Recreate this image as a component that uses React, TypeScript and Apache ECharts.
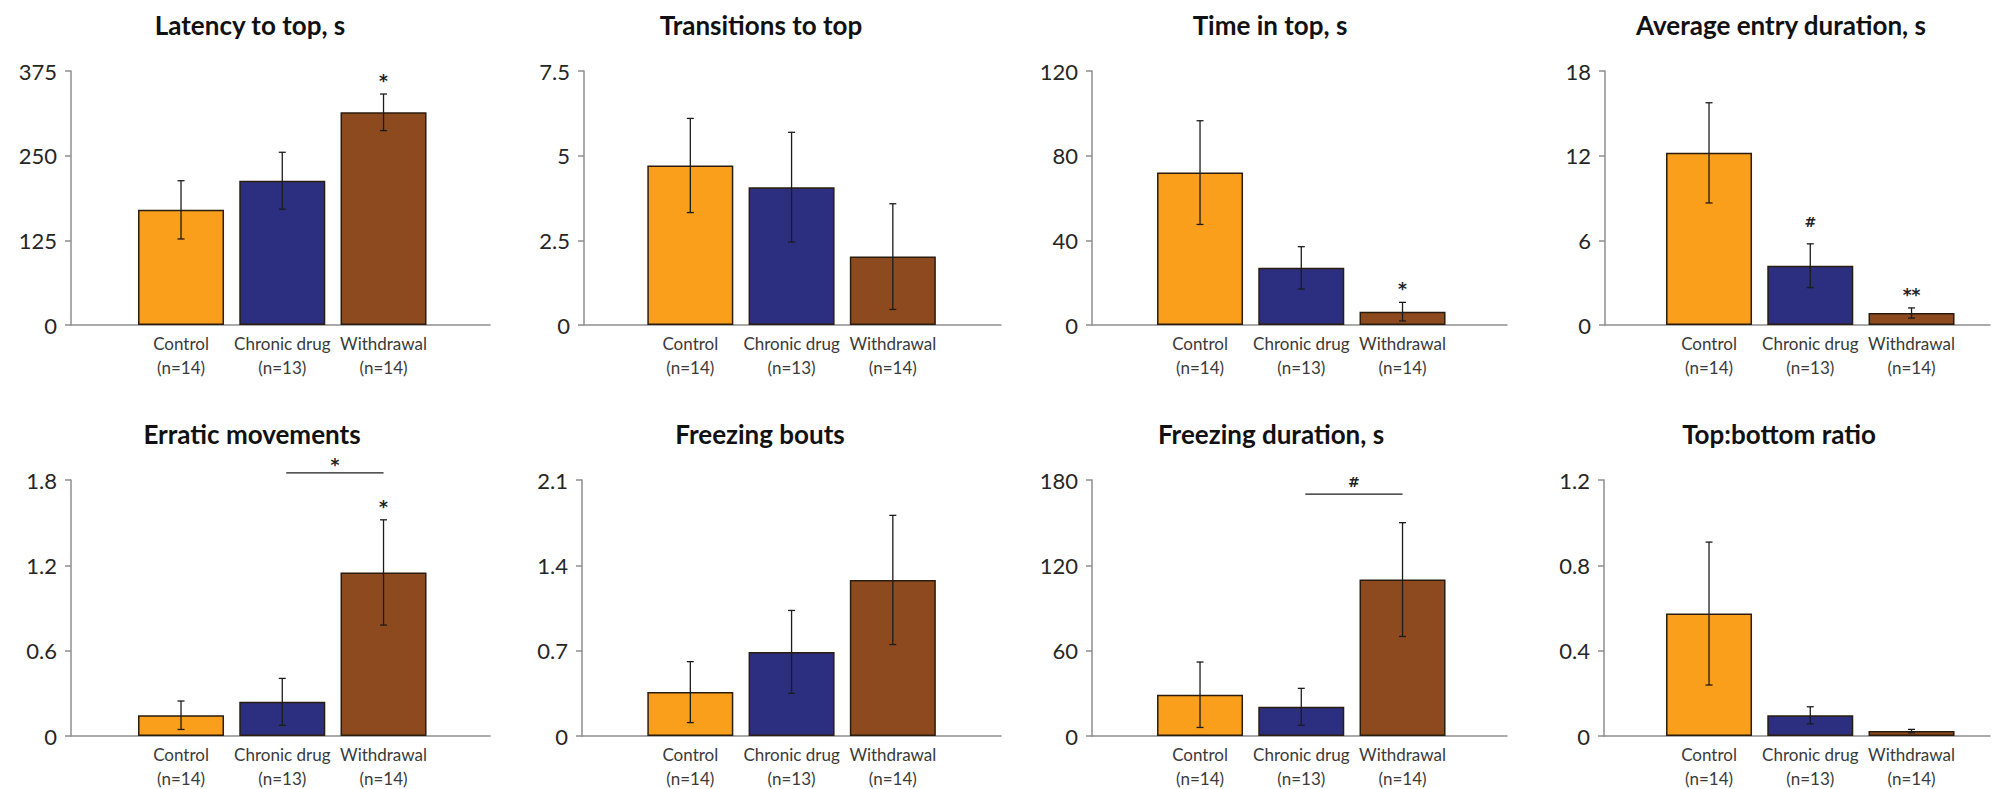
import React, { useEffect, useRef } from "react";
import * as echarts from "echarts";

// Groups shown on every panel
const groups = ["Control", "Chronic drug", "Withdrawal"];
const groupSizes = ["(n=14)", "(n=13)", "(n=14)"];
const groupColors = ["#F99F1C", "#2C2F7F", "#8D4A1F"];

// Panel titles, in reading order
const titles = [
  "Latency to top, s",
  "Transitions to top",
  "Time in top, s",
  "Average entry duration, s",
  "Erratic movements",
  "Freezing bouts",
  "Freezing duration, s",
  "Top:bottom ratio",
];

// Y axis ranges
const axisMax = [375, 7.5, 120, 18, 1.8, 2.1, 180, 1.2];
const axisStep = [125, 2.5, 40, 6, 0.6, 0.7, 60, 0.4];

// Means and SEM per group (Control, Chronic drug, Withdrawal)
const latencyMean = [170, 213, 314];
const latencySem = [43, 42, 27];
const transitionsMean = [4.71, 4.07, 2.02];
const transitionsSem = [1.39, 1.62, 1.56];
const timeTopMean = [72, 27, 6.3];
const timeTopSem = [24.5, 10, 4.4];
const entryDurationMean = [12.2, 4.2, 0.85];
const entryDurationSem = [3.55, 1.55, 0.36];
const erraticMean = [0.146, 0.24, 1.15];
const erraticSem = [0.1, 0.165, 0.37];
const freezingBoutsMean = [0.36, 0.69, 1.28];
const freezingBoutsSem = [0.25, 0.34, 0.53];
const freezingDurationMean = [29, 20.5, 110];
const freezingDurationSem = [23, 13, 40];
const ratioMean = [0.574, 0.097, 0.023];
const ratioSem = [0.335, 0.04, 0.008];

// Significance marks above individual bars
const latencyMarks = ["", "", "*"];
const transitionsMarks = ["", "", ""];
const timeTopMarks = ["", "", "*"];
const entryDurationMarks = ["", "#", "**"];
const erraticMarks = ["", "", "*"];
const freezingBoutsMarks = ["", "", ""];
const freezingDurationMarks = ["", "", ""];
const ratioMarks = ["", "", ""];

// Chronic drug vs Withdrawal comparison brackets (value level, mark)
const erraticBracket = { from: 1, to: 2, level: 1.85, mark: "*" };
const freezingDurationBracket = { from: 1, to: 2, level: 170, mark: "#" };

const means = [
  latencyMean, transitionsMean, timeTopMean, entryDurationMean,
  erraticMean, freezingBoutsMean, freezingDurationMean, ratioMean,
];
const sems = [
  latencySem, transitionsSem, timeTopSem, entryDurationSem,
  erraticSem, freezingBoutsSem, freezingDurationSem, ratioSem,
];
const marks = [
  latencyMarks, transitionsMarks, timeTopMarks, entryDurationMarks,
  erraticMarks, freezingBoutsMarks, freezingDurationMarks, ratioMarks,
];
const brackets = [null, null, null, null, erraticBracket, null, freezingDurationBracket, null];

// Layout (pixels)
const rowTop = [71, 480];
const rowZero = [325, 736];
const frameLeft = [71, 584, 1092, 1605, 71, 582, 1092, 1604];
const frameRight = [490, 1001, 1507, 1990, 490, 1001, 1507, 1990];
const barLeft = [130.4, 639.7, 1149.4, 1658.4, 130.4, 639.7, 1149.4, 1658.4];
const slotWidth = 101.25;
const titleX = [250, 761, 1270, 1781, 252, 760, 1271, 1779];
const titleY = [25, 434];

const FONT = "Lato";
const AXIS_GRAY = "#8e8e8e";
const INK = "#1c1c1c";

function markStyle(mk: string) {
  const hash = mk === "#";
  return {
    text: mk,
    fontSize: hash ? 14 : 17,
    fontWeight: "bold",
    fontFamily: "DejaVu Sans",
    fill: "#222",
    align: "center",
    verticalAlign: "middle",
  };
}

function buildOption() {
  const grid: any[] = [];
  const xAxis: any[] = [];
  const yAxis: any[] = [];
  const series: any[] = [];
  const graphic: any[] = [];

  titles.forEach((title, i) => {
    const row = i < 4 ? 0 : 1;
    const top = rowTop[row];
    const height = rowZero[row] - rowTop[row];

    // frame grid: y axis and the long x baseline
    grid.push({ left: frameLeft[i], top, width: frameRight[i] - frameLeft[i], height, outerBoundsMode: "none" });
    const fg = grid.length - 1;
    xAxis.push({
      gridIndex: fg, type: "value", min: 0, max: 1,
      axisLine: { show: true, onZero: false, lineStyle: { color: AXIS_GRAY, width: 1.5 } },
      axisTick: { show: false }, axisLabel: { show: false }, splitLine: { show: false },
    });
    yAxis.push({
      gridIndex: fg, type: "value", min: 0, max: axisMax[i], interval: axisStep[i],
      axisLine: { show: true, lineStyle: { color: AXIS_GRAY, width: 1.5 } },
      axisTick: { show: true, inside: false, length: 6, lineStyle: { color: AXIS_GRAY, width: 1.5 } },
      axisLabel: { fontSize: 22, fontFamily: FONT, color: "#262626", margin: 14 },
      splitLine: { show: false },
    });

    // bar grid: categories, bars, error bars
    grid.push({ left: barLeft[i], top, width: slotWidth * 3, height, outerBoundsMode: "none" });
    const bg = grid.length - 1;
    xAxis.push({
      gridIndex: bg, type: "category",
      data: groups.map((g, k) => g + "\n" + groupSizes[k]),
      axisLine: { show: false }, axisTick: { show: false },
      axisLabel: { interval: 0, fontSize: 17, lineHeight: 24, fontFamily: FONT, color: "#3a3a3a", margin: 6 },
    });
    yAxis.push({ gridIndex: bg, type: "value", min: 0, max: axisMax[i], show: false });
    const xi = xAxis.length - 1;
    const yi = yAxis.length - 1;

    series.push({
      type: "bar", xAxisIndex: xi, yAxisIndex: yi, barWidth: 86, z: 2,
      itemStyle: { borderColor: "#2a1c0e", borderWidth: 1.5 },
      data: means[i].map((v, k) => ({ value: v, itemStyle: { color: groupColors[k] } })),
    });

    const panelMarks = marks[i];
    series.push({
      type: "custom", xAxisIndex: xi, yAxisIndex: yi, clip: false, z: 10,
      encode: { x: 0, y: 1 },
      data: means[i].map((v, k) => [k, v, sems[i][k]]),
      renderItem: (params: any, api: any) => {
        const idx = api.value(0);
        const m = api.value(1);
        const s = api.value(2);
        const hi = api.coord([idx, m + s]);
        const lo = api.coord([idx, m - s]);
        const cap = 3.5;
        const st = { stroke: INK, lineWidth: 1.3 };
        const children: any[] = [
          { type: "line", shape: { x1: hi[0], y1: hi[1], x2: lo[0], y2: lo[1] }, style: st },
          { type: "line", shape: { x1: hi[0] - cap, y1: hi[1], x2: hi[0] + cap, y2: hi[1] }, style: st },
          { type: "line", shape: { x1: lo[0] - cap, y1: lo[1], x2: lo[0] + cap, y2: lo[1] }, style: st },
        ];
        const mk = panelMarks[params.dataIndex];
        if (mk) {
          children.push({
            type: "text", x: hi[0], y: hi[1] - (mk === "#" ? 22 : 13),
            style: markStyle(mk),
          });
        }
        return { type: "group", children };
      },
    });

    const b = brackets[i];
    if (b) {
      series.push({
        type: "custom", xAxisIndex: xi, yAxisIndex: yi, clip: false, z: 10,
        encode: { x: 0, y: 1 },
        data: [[b.from, b.level]],
        renderItem: (_p: any, api: any) => {
          const a = api.coord([b.from, b.level]);
          const c = api.coord([b.to, b.level]);
          return {
            type: "group",
            children: [
              { type: "line", shape: { x1: a[0] + 4, y1: a[1], x2: c[0], y2: c[1] }, style: { stroke: INK, lineWidth: 1.3 } },
              {
                type: "text", x: (a[0] + c[0]) / 2 + 2, y: a[1] - (b.mark === "#" ? 12 : 8),
                style: markStyle(b.mark),
              },
            ],
          };
        },
      });
    }

    graphic.push({
      type: "text", x: titleX[i], y: titleY[row],
      style: { text: title, fontSize: 26, fontWeight: "bold", fontFamily: FONT, fill: "#111", align: "center", verticalAlign: "middle" },
    });
  });

  return {
    animation: false,
    backgroundColor: "#ffffff",
    grid, xAxis, yAxis, series, graphic,
  };
}

export default function App() {
  const ref = useRef<HTMLDivElement>(null);
  useEffect(() => {
    if (!ref.current) return;
    const chart = echarts.init(ref.current, null, { renderer: "svg" });
    chart.setOption(buildOption() as any);
    return () => chart.dispose();
  }, []);
  return (
    <div
      ref={ref}
      style={{ position: "fixed", left: 0, top: 0, width: 1997, height: 789, background: "#fff" }}
    />
  );
}
